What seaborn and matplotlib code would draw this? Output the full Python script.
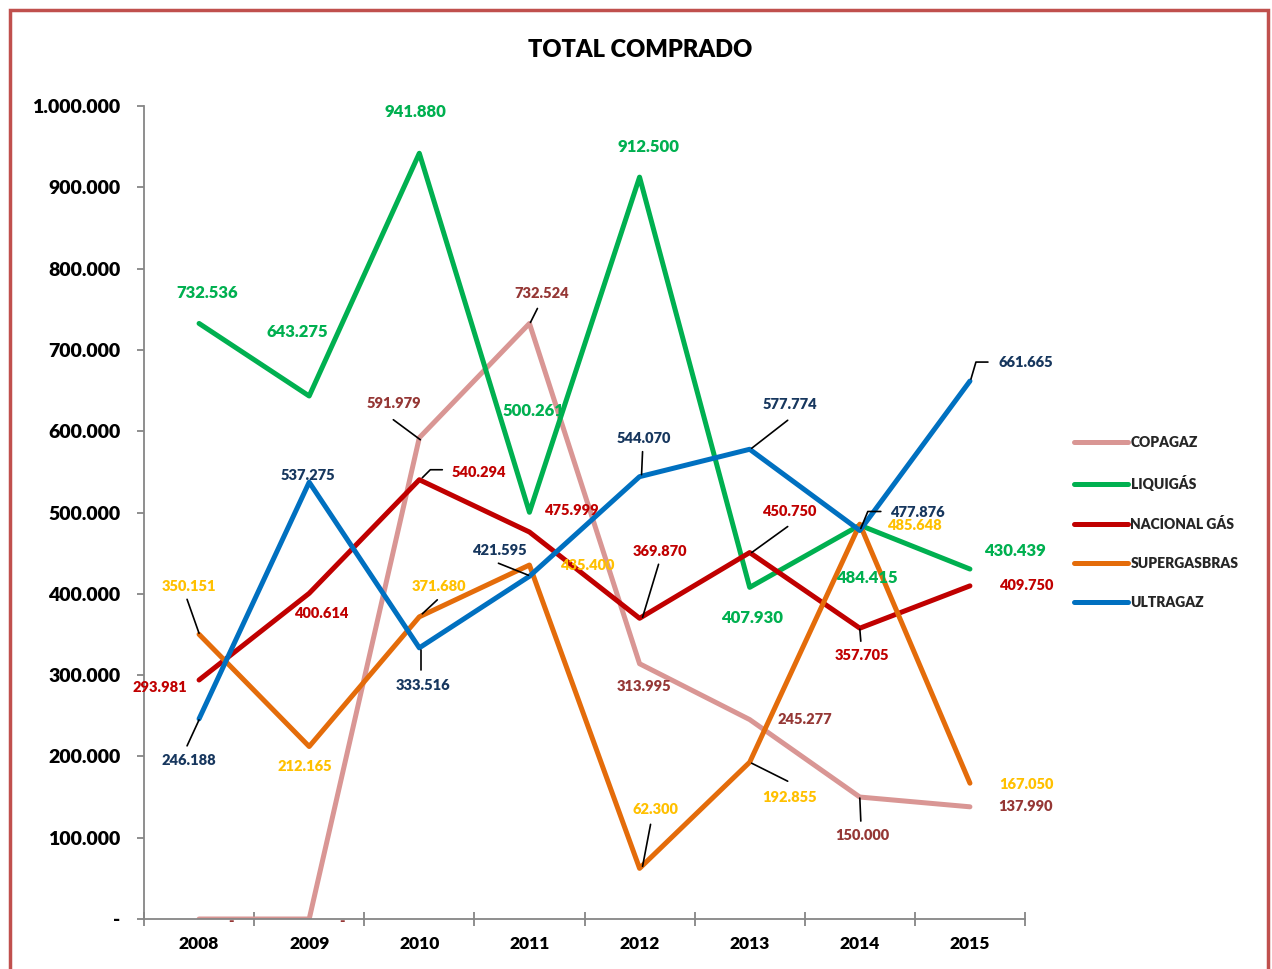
import numpy as np
import pandas as pd
import matplotlib
matplotlib.use("Agg")
import matplotlib.pyplot as plt
import seaborn as sns
from matplotlib.lines import Line2D
from matplotlib.patches import Rectangle
from matplotlib.transforms import IdentityTransform

# ---------------- data ----------------
years = ["2008", "2009", "2010", "2011", "2012", "2013", "2014", "2015"]
companies = ["COPAGAZ", "LIQUIGÁS", "NACIONAL GÁS", "SUPERGASBRAS", "ULTRAGAZ"]
copagaz = [0, 0, 591979, 732524, 313995, 245277, 150000, 137990]
liquigas = [732536, 643275, 941880, 500261, 912500, 407930, 484415, 430439]
nacional = [293981, 400614, 540294, 475999, 369870, 450750, 357705, 409750]
supergasbras = [350151, 212165, 371680, 435400, 62300, 192855, 485648, 167050]
ultragaz = [246188, 537275, 333516, 421595, 544070, 577774, 477876, 661665]
y_ticks = [0, 100000, 200000, 300000, 400000, 500000, 600000, 700000, 800000, 900000, 1000000]
title = "TOTAL COMPRADO"

series = [copagaz, liquigas, nacional, supergasbras, ultragaz]

# ---------------- styles ----------------
line_colors = ["#D99694", "#00B050", "#C00000", "#E46C0A", "#0070C0"]
label_colors = ["#953735", "#00B050", "#C00000", "#FFC000", "#17375E"]
label_sizes = [10.5, 12, 10.5, 10.5, 10.5]
W8 = "heavy"

# label offsets (pixels, display: x right, y up) relative to each point
label_off = [
    [(32, -2), (33, -2), (-25, 34), (12, 30), (4, -23), (55, 0), (2, -38), (56, 0)],
    [(8, 30), (-12, 64), (-4, 41), (4, 101), (9, 30), (2, -31), (7, -53), (45, 18)],
    [(-39, -8), (12, -20), (60, 7), (42, 22), (20, 67), (40, 41), (2, -27), (56, 0)],
    [(-10, 48), (-4, -20), (20, 30), (58, 0), (16, 59), (40, -35), (55, -1), (56, -1)],
    [(-10, -42), (-1, 7), (4, -38), (-30, 26), (4, 38), (40, 45), (58, 18), (56, 19)],
]
# leader lines (pixel polylines relative to the point)
leaders = {
    (0, 2): [(1, -2), (-26, 18)],
    (0, 3): [(1, 1), (8, 15)],
    (0, 6): [(0, -1), (1, -24)],
    (2, 2): [(3, 2), (11, 10), (23, 10)],
    (2, 4): [(3, 1), (19, 54)],
    (2, 5): [(2, 0), (38, 26)],
    (2, 6): [(0, -1), (1, -13)],
    (3, 0): [(0, 1), (-12, 35)],
    (3, 2): [(3, 3), (18, 17)],
    (3, 4): [(3, 2), (11, 44)],
    (3, 5): [(2, -1), (38, -19)],
    (4, 0): [(0, -1), (-12, -27)],
    (4, 2): [(2, -2), (2, -22)],
    (4, 3): [(-1, 1), (-31, 13)],
    (4, 4): [(2, 2), (3, 25)],
    (4, 5): [(2, 1), (38, 29)],
    (4, 6): [(1, 2), (8, 19), (21, 19)],
    (4, 7): [(1, 2), (6, 19), (18, 19)],
}


def fmt(v):
    if v == 0:
        return "-"
    return f"{v:,}".replace(",", ".")


# ---------------- figure ----------------
sns.set_theme(style="white")
plt.rcParams["font.family"] = ["Lato", "DejaVu Sans"]

W, H = 1272, 969
fig = plt.figure(figsize=(W / 100, H / 100), dpi=100)
ax = fig.add_axes([144 / W, 50 / H, (1025 - 144) / W, (919 - 106) / H])

rows = []
for c, vals in zip(companies, series):
    for i, v in enumerate(vals):
        rows.append({"x": i, "year": years[i], "company": c, "value": v})
df = pd.DataFrame(rows)

sns.lineplot(data=df, x="x", y="value", hue="company", hue_order=companies,
             palette=dict(zip(companies, line_colors)), linewidth=3.6,
             sort=False, legend=False, ax=ax, solid_capstyle="round")

ax.set_xlim(-0.5, 7.5)
ax.set_ylim(0, 1000000)
ax.set_xlabel("")
ax.set_ylabel("")

# axes styling
for s in ["top", "right"]:
    ax.spines[s].set_visible(False)
for s in ["left", "bottom"]:
    ax.spines[s].set_color("#868686")
    ax.spines[s].set_linewidth(1.3)

ax.set_yticks(y_ticks)
ax.set_yticklabels([fmt(v) for v in y_ticks], fontsize=14, fontweight=W8, color="black")
ax.tick_params(axis="y", which="major", direction="out", length=5, width=1.3,
               color="#868686", left=True, pad=12)

ax.set_xticks(np.arange(-0.5, 8.0, 1.0))
ax.set_xticklabels([])
ax.tick_params(axis="x", which="major", direction="inout", length=10, width=1.3,
               color="#868686", bottom=True)
ax.set_xticks(np.arange(0, 8), minor=True)
ax.set_xticklabels(years, minor=True, fontsize=12.5, fontweight=W8, color="black")
ax.tick_params(axis="x", which="minor", length=0, pad=12)

# data labels
fig.canvas.draw()
for si, vals in enumerate(series):
    for i, v in enumerate(vals):
        dx, dy = label_off[si][i]
        ax.annotate(fmt(v), xy=(i, v), xytext=(dx, dy), textcoords="offset pixels",
                    ha="center", va="center", fontsize=label_sizes[si],
                    fontweight=W8, color=label_colors[si], annotation_clip=False)
        if (si, i) in leaders:
            px, py = ax.transData.transform((i, v))
            pts = leaders[(si, i)]
            xs = [px + p[0] for p in pts]
            ys = [py + p[1] for p in pts]
            fig.add_artist(Line2D(xs, ys, transform=IdentityTransform(),
                                  color="black", lw=1.2))

# legend
handles = [Line2D([0], [0], color=c, lw=3.6, solid_capstyle="round") for c in line_colors]
leg = ax.legend(handles, companies, loc="upper left",
                bbox_to_anchor=(1068 / W, (H - 430) / H), bbox_transform=fig.transFigure,
                frameon=False, fontsize=10, handlelength=3.9, handletextpad=0.2,
                labelspacing=1.88, borderaxespad=0)
for t in leg.get_texts():
    t.set_fontweight(W8)

# title
fig.text(640 / W, (H - 50) / H, title, ha="center", va="center",
         fontsize=17, fontweight=W8, color="black")

# outer border
fig.add_artist(Rectangle((10 / W, -0.05), 1258 / W, (H - 10) / H + 0.05,
                         transform=fig.transFigure, fill=False,
                         edgecolor="#C0504D", lw=2.5))

fig.savefig("out.png", dpi=100)
